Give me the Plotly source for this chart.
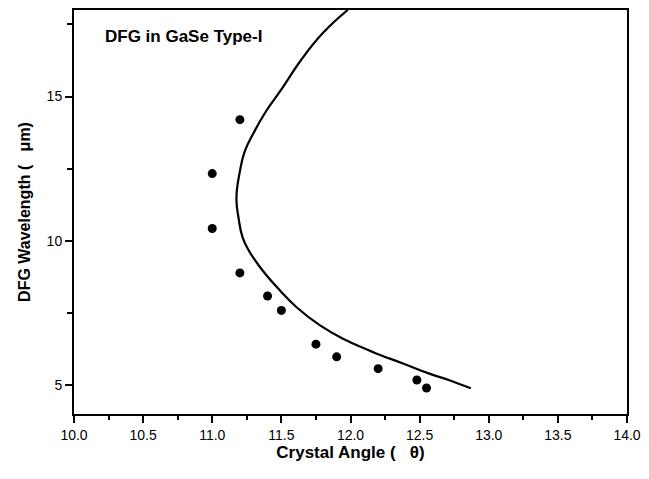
import plotly.graph_objects as go

# Measured data points (crystal angle in degrees, DFG wavelength in um)
exp_angle = [11.2, 11.0, 11.0, 11.2, 11.4, 11.5, 11.75, 11.9, 12.2, 12.48, 12.55]
exp_wavelength = [14.2, 12.33, 10.43, 8.89, 8.09, 7.59, 6.42, 5.98, 5.57, 5.18, 4.9]

# Calculated phase-matching curve
calc_angle = [11.98, 11.80, 11.64, 11.50, 11.39, 11.30, 11.235, 11.20, 11.175, 11.19,
              11.22, 11.27, 11.36, 11.49, 11.61, 11.78, 11.95, 12.11, 12.19, 12.38,
              12.57, 12.715, 12.87]
calc_wavelength = [18.0, 17.2, 16.25, 15.25, 14.5, 13.75, 13.10, 12.41, 11.49, 10.80,
                   10.11, 9.62, 9.0, 8.28, 7.70, 7.07, 6.6, 6.25, 6.09, 5.75,
                   5.40, 5.17, 4.89]

x_ticks = [10.0, 10.5, 11.0, 11.5, 12.0, 12.5, 13.0, 13.5, 14.0]
y_ticks = [5, 10, 15]

FONT = "Liberation Sans, Arial, sans-serif"

fig = go.Figure()
fig.add_trace(go.Scatter(
    x=calc_angle, y=calc_wavelength, mode="lines",
    line=dict(color="black", width=2.2, shape="spline", smoothing=1.3),
    cliponaxis=True, showlegend=False))
fig.add_trace(go.Scatter(
    x=exp_angle, y=exp_wavelength, mode="markers",
    marker=dict(color="black", size=9, symbol="circle"),
    showlegend=False))

fig.update_layout(
    width=649, height=479,
    margin=dict(l=74, r=21, t=8, b=65),
    plot_bgcolor="white", paper_bgcolor="white",
    font=dict(family=FONT, color="black"),
    xaxis=dict(
        range=[10.0, 14.0], tickvals=x_ticks,
        ticktext=[f"{v:.1f}" for v in x_ticks],
        ticks="outside", ticklen=7, tickwidth=1.5, tickcolor="black",
        minor=dict(dtick=0.25, ticks="outside", ticklen=4, tickwidth=1.5, tickcolor="black", showgrid=False),
        showline=True, linecolor="black", linewidth=2, mirror=True,
        showgrid=False, zeroline=False,
        tickfont=dict(size=14, family=FONT, color="black"),
        title=dict(text="<b>Crystal Angle (\u00a0\u00a0\u00a0θ)</b>",
                   font=dict(size=17, family=FONT, color="black"), standoff=4),
    ),
    yaxis=dict(
        range=[4, 18], tickvals=y_ticks,
        ticks="outside", ticklen=7, tickwidth=1.5, tickcolor="black",
        minor=dict(tickvals=[7.5, 12.5, 17.5], ticks="outside", ticklen=5, tickwidth=1.5, tickcolor="black", showgrid=False),
        showline=True, linecolor="black", linewidth=2, mirror=True,
        showgrid=False, zeroline=False,
        tickfont=dict(size=14, family=FONT, color="black"),
        title=dict(text="<b>DFG Wavelength (\u00a0\u00a0\u00a0μm)</b>",
                   font=dict(size=16, family=FONT, color="black"), standoff=12),
    ),
    annotations=[dict(
        text="<b>DFG in GaSe Type-I</b>", xref="paper", yref="paper",
        x=0.052, y=0.935, xanchor="left", yanchor="middle", showarrow=False,
        font=dict(size=17, family=FONT, color="black"))],
)

fig.write_html("out.html")
